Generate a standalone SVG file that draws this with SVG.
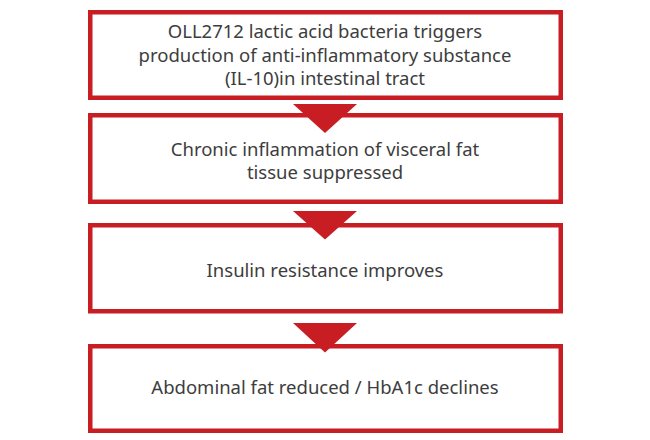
<svg xmlns="http://www.w3.org/2000/svg" width="650" height="440" viewBox="0 0 650 440">
<style>
.box{fill:#fff;stroke:#c81d23;stroke-width:4.5}
.arrow{fill:#c81d23;stroke:none}
.t{font-family:"Noto Sans","Open Sans","DejaVu Sans",sans-serif;font-size:18.5px;fill:#3d3d3d;text-anchor:middle}
</style>
<rect width="650" height="440" fill="#fff"/>
<g id="node1">
<rect class="box" x="90.25" y="12.25" width="470.5" height="85.5"/>
<text class="t" x="325" y="37.7">OLL2712 lactic acid bacteria triggers</text>
<text class="t" x="325" y="61.7">production of anti-inflammatory substance</text>
<text class="t" x="325" y="85.3">(IL-10)in intestinal tract</text>
</g>
<g id="node2">
<rect class="box" x="90.25" y="115.25" width="470.5" height="86.5"/>
<text class="t" x="325" y="156">Chronic inflammation of visceral fat</text>
<text class="t" x="325" y="179.3">tissue suppressed</text>
</g>
<g id="node3">
<rect class="box" x="90.25" y="225.25" width="470.5" height="86"/>
<text class="t" x="325" y="276.5">Insulin resistance improves</text>
</g>
<g id="node4">
<rect class="box" x="90.25" y="346.25" width="470.5" height="84.5"/>
<text class="t" x="325" y="394">Abdominal fat reduced / HbA1c declines</text>
</g>
<g id="connectors">
<polygon class="arrow" points="293,104 357,104 325,133"/>
<polygon class="arrow" points="293,211 357,211 325,239.5"/>
<polygon class="arrow" points="293,323 357,323 325,352.5"/>
</g>
</svg>
